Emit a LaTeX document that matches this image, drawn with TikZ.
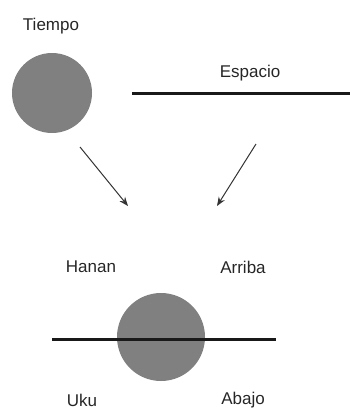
\documentclass[tikz,border=0pt]{standalone}
\usepackage{fontspec}
\setmainfont{Liberation Sans}
\usetikzlibrary{arrows.meta, positioning}

\begin{document}
\begin{tikzpicture}[
        x=1pt, y=-1pt,
        label/.style={inner sep=0pt, font=\fontsize{17}{19}\selectfont, text=black!85},
        disc/.style={circle, fill=black!50, inner sep=0pt},
        bar/.style={line width=3pt, black!90},
        >={Stealth[length=9pt, width=7pt]}, line width=1pt
    ]
    \useasboundingbox (0,0) rectangle (350,410);

    % Tiempo
    \node[label] (tiempo) at (51,26) {Tiempo};
    \node[disc, minimum size=80pt] (sol) at (52,93) {};

    % Espacio
    \node[label] (espacio) at (250,73) {Espacio};
    \coordinate (espA) at (132,93);
    \coordinate (espB) at (350,93);
    \draw[bar] (espA) -- (espB);

    % Arrows down
    \coordinate (arrL) at (80,147);
    \coordinate (tipL) at (128,206);
    \coordinate (arrR) at (256,144);
    \coordinate (tipR) at (217,206);
    \draw[->, black!80] (arrL) -- (tipL);
    \draw[->, black!80] (arrR) -- (tipR);

    % Hanan / Uku
    \node[label] (hanan) at (91,267) {Hanan};
    \node[label] (arriba) at (243,267) {Arriba};
    \node[disc, minimum size=88pt] (mundo) at (161,337) {};
    \coordinate (linA) at (52,339);
    \coordinate (linB) at (276,339);
    \draw[bar] (linA) -- (linB);
    \node[label] (uku) at (82,400) {Uku};
    \node[label] (abajo) at (243,400) {Abajo};

\end{tikzpicture}
\end{document}
